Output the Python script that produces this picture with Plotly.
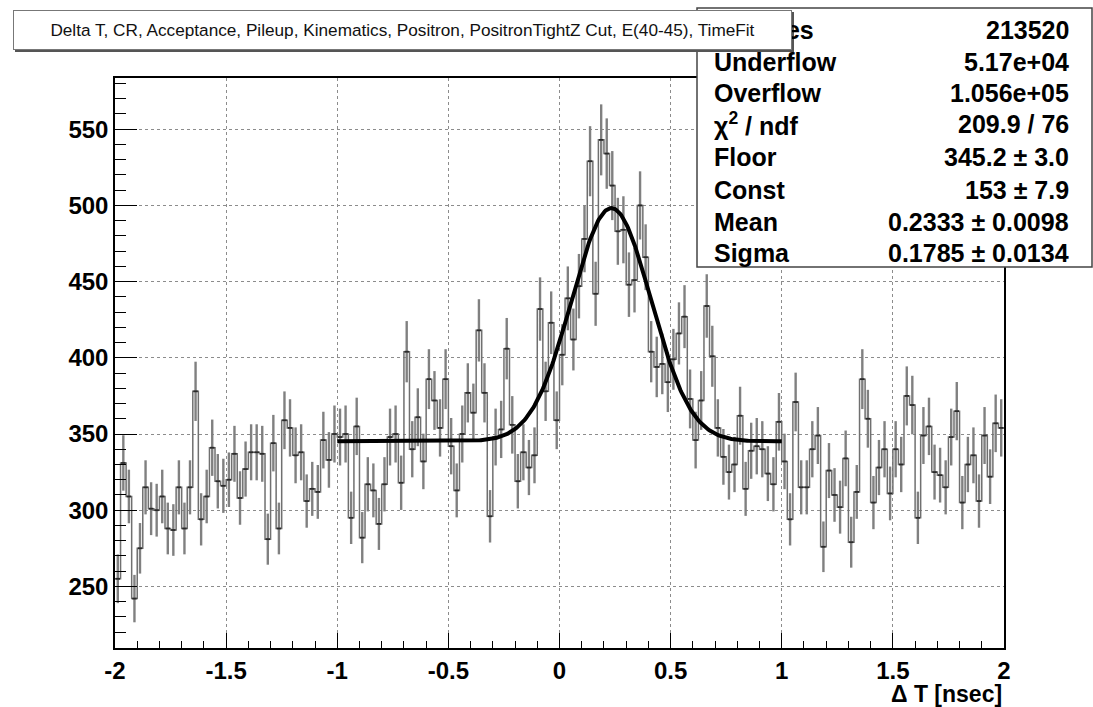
import numpy as np
import plotly.graph_objects as go

# ---------------- data ----------------
x_min, x_max, n_bins = -2.0, 2.0, 160
counts = [
    255, 331, 309, 242, 275, 315, 301, 300, 309, 288,
    287, 315, 288, 315, 378, 294, 309, 341, 319, 316,
    320, 337, 308, 327, 338, 338, 337, 281, 344, 288,
    359, 354, 336, 338, 306, 314, 312, 346, 333, 350,
    348, 350, 295, 355, 282, 317, 313, 291, 317, 348,
    350, 318, 404, 340, 361, 332, 386, 372, 354, 386,
    342, 313, 350, 377, 364, 418, 377, 296, 348, 353,
    406, 356, 319, 338, 328, 336, 432, 378, 423, 359,
    402, 439, 412, 447, 478, 529, 442, 543, 534, 513,
    483, 484, 448, 451, 500, 466, 404, 394, 396, 384,
    399, 416, 427, 373, 346, 372, 434, 401, 354, 335,
    325, 330, 362, 314, 339, 342, 340, 324, 317, 358,
    332, 294, 371, 315, 315, 340, 349, 276, 326, 310,
    302, 334, 279, 312, 386, 360, 305, 328, 340, 311,
    340, 330, 375, 369, 295, 349, 355, 325, 323, 315,
    348, 365, 305, 330, 336, 306, 349, 322, 357, 354,
]

# fit parameters (from stats box)
fit_floor, fit_const, fit_mean, fit_sigma = 345.2, 153.0, 0.2333, 0.1785
fit_range = (-1.0, 1.0)

x_tickvals = [-2, -1.5, -1, -0.5, 0, 0.5, 1, 1.5, 2]
x_ticktext = ["-2", "-1.5", "-1", "-0.5", "0", "0.5", "1", "1.5", "2"]
y_tickvals = [250, 300, 350, 400, 450, 500, 550]
y_ticktext = ["250", "300", "350", "400", "450", "500", "550"]

title_text = ("Delta T, CR, Acceptance, Pileup, Kinematics, Positron, "
              "PositronTightZ Cut, E(40-45), TimeFit")
x_title = "Δ T [nsec]"

stat_labels = ["Entries", "Underflow", "Overflow", "χ<sup>2</sup> / ndf",
               "Floor", "Const", "Mean", "Sigma"]
stat_values = ["213520", "5.17e+04", "1.056e+05", "209.9 / 76",
               "345.2 ± 3.0", "153 ± 7.9", "0.2333 ± 0.0098", "0.1785 ± 0.0134"]

# ---------------- derived ----------------
counts = np.array(counts, dtype=float)
bw = (x_max - x_min) / n_bins
edges = x_min + bw * np.arange(n_bins + 1)
centers = edges[:-1] + bw / 2
errors = np.sqrt(counts)

xf = np.linspace(fit_range[0], fit_range[1], 400)
yf = fit_floor + fit_const * np.exp(-0.5 * ((xf - fit_mean) / fit_sigma) ** 2)

# ---------------- layout geometry (pixels) ----------------
W, H = 1093, 707
L, R, T, B = 115, 1004, 78, 648


def px(x):
    return (x - L) / (R - L)


def py(y):
    return (B - y) / (B - T)


y_lo = 350 - (B - 434) / 1.524
y_hi = 350 + (434 - T) / 1.524

FONT = "Liberation Sans, Arial, Helvetica, sans-serif"

fig = go.Figure()

# error bars (gray vertical)
fig.add_trace(go.Scatter(
    x=centers, y=counts, mode="markers",
    marker=dict(size=1, color="rgba(0,0,0,0)"),
    error_y=dict(type="data", array=errors, color="#808080", thickness=2.4, width=0),
    hoverinfo="skip", showlegend=False))

# histogram step outline
fig.add_trace(go.Scatter(
    x=edges, y=np.append(counts, counts[-1]), mode="lines",
    line=dict(color="#707070", width=1.5, shape="hv"),
    hoverinfo="skip", showlegend=False))

# bin value marks (horizontal)
fig.add_trace(go.Scatter(
    x=centers, y=counts, mode="markers",
    marker=dict(size=1, color="rgba(0,0,0,0)"),
    error_x=dict(type="constant", value=bw / 2 * 0.8, color="#2a2a2a", thickness=1.8, width=0),
    hoverinfo="skip", showlegend=False))

# fit curve
fig.add_trace(go.Scatter(
    x=xf, y=yf, mode="lines",
    line=dict(color="black", width=4),
    hoverinfo="skip", showlegend=False))

axis_common = dict(
    showline=True, linecolor="black", linewidth=1.5, mirror=True,
    ticks="inside", tickcolor="black",
    showgrid=True, gridcolor="#8c8c8c", griddash="dot", gridwidth=1,
    zeroline=False,
    tickfont=dict(family=FONT, size=24, color="black", weight="bold"),
)

fig.update_xaxes(
    range=[x_min, x_max], tickvals=x_tickvals, ticktext=x_ticktext,
    ticklen=15, tickwidth=1.2,
    minor=dict(dtick=0.1, ticklen=7, tickcolor="black", ticks="inside", showgrid=False),
    **axis_common)
fig.update_yaxes(
    range=[y_lo, y_hi], tickvals=y_tickvals, ticktext=y_ticktext,
    ticklen=22, tickwidth=1.2,
    minor=dict(dtick=10, ticklen=11, tickcolor="black", ticks="inside", showgrid=False),
    **axis_common)

shapes = [
    # stats box
    dict(type="rect", xref="paper", yref="paper",
         x0=px(697), x1=px(1092), y0=py(267), y1=py(8),
         fillcolor="white", line=dict(color="#444444", width=1.5), layer="above"),
    # title box shadow
    dict(type="rect", xref="paper", yref="paper",
         x0=px(15), x1=px(794), y0=py(52), y1=py(12),
         fillcolor="#555555", line=dict(width=0), layer="above"),
]

annotations = []
row_y = [30, 62, 93, 124, 157, 190, 222, 253]
STAT_FONT = dict(family=FONT, size=25, color="black", weight="bold")
for i, (lab, val, yy) in enumerate(zip(stat_labels, stat_values, row_y)):
    if i == 0:
        # mostly hidden behind the title box, only the final "s" shows
        annotations.append(dict(
            xref="paper", yref="paper", x=px(816), y=py(yy), xanchor="right",
            yanchor="middle", text=lab, showarrow=False, font=STAT_FONT))
    else:
        annotations.append(dict(
            xref="paper", yref="paper", x=px(712), y=py(yy), xanchor="left",
            yanchor="middle", text=lab, showarrow=False, font=STAT_FONT))
    annotations.append(dict(
        xref="paper", yref="paper", x=px(1071), y=py(yy), xanchor="right", yanchor="middle",
        text=val, showarrow=False, font=STAT_FONT))

# title box (drawn over the stats "Entrie" text)
annotations.append(dict(
    xref="paper", yref="paper", x=px(13), y=py(10), xanchor="left", yanchor="top",
    text=title_text, showarrow=False, width=775, height=36, align="center",
    bgcolor="white", bordercolor="#777777", borderwidth=1, borderpad=1,
    font=dict(family=FONT, size=17.2, color="#111111")))

# x-axis title
annotations.append(dict(
    xref="paper", yref="paper", x=1.0, y=py(694), xanchor="right", yanchor="middle",
    text=x_title, showarrow=False,
    font=dict(family=FONT, size=23, color="black", weight="bold")))

fig.update_layout(
    width=W, height=H,
    margin=dict(l=L, r=W - R, t=T, b=H - B, pad=0),
    paper_bgcolor="white", plot_bgcolor="white",
    showlegend=False,
    shapes=shapes, annotations=annotations,
)

fig.write_html("out.html")
